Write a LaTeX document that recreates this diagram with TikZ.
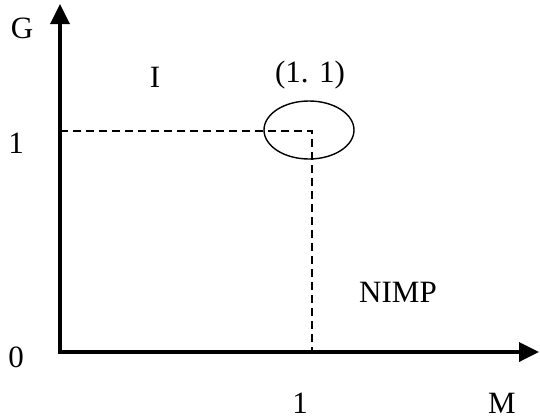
\documentclass[tikz,border=0pt]{standalone}
\usepackage{fontspec}
\setmainfont{Liberation Serif}
\usetikzlibrary{arrows.meta, shapes.geometric}

\begin{document}
\begin{tikzpicture}[x=0.5pt, y=0.5pt, font=\fontsize{15.5}{17}\selectfont,
  axisline/.style={line width=1.75pt, -{Triangle[length=10pt,width=9.5pt]}},
  guide/.style={line width=1.2pt, dash pattern=on 4pt off 2.5pt},
  lbl/.style={inner sep=0pt, anchor=center},
]
  \useasboundingbox (0,0) rectangle (540,419);
  \coordinate (O) at (60,67);
  \coordinate (ytip) at (60,415);
  \coordinate (xtip) at (539,67);
  \coordinate (yone) at (60,288);
  \coordinate (xone) at (312,67);
  \coordinate (P) at (312,288);
  \draw[axisline] ([yshift=-0.8pt]O) -- (ytip);
  \draw[axisline] ([xshift=-0.8pt]O) -- (xtip);
  \draw[guide] (yone) -- (P) -- (xone);
  \node[draw, ellipse, line width=0.7pt, minimum width=45pt, minimum height=29pt, inner sep=0pt] (pt) at (309,289) {};
  \node[lbl] (lG) at (22,391) {G};
  \node[lbl] (lI) at (155,342) {I};
  \node[lbl] (lpt) at (310,344) {(1. 1)};
  \node[lbl] (ly1) at (16,276) {1};
  \node[lbl] (lnimp) at (398,127) {NIMP};
  \node[lbl] (l0) at (16,62) {0};
  \node[lbl] (lx1) at (300,16) {1};
  \node[lbl] (lM) at (502,16) {M};
\end{tikzpicture}
\end{document}
